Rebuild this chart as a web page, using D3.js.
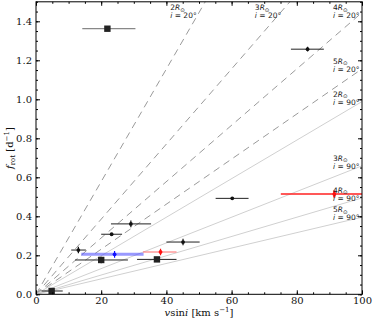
<!DOCTYPE html>
<html>
<head>
<meta charset="utf-8">
<script src="https://cdn.jsdelivr.net/npm/d3@7"></script>
<style>
body { margin: 0; background: #fff; }
</style>
</head>
<body>
<div id="chart"></div>
<script>
// measured points: vsini with asymmetric range, f_rot with small error
const vsini    = [21.9, 83.3, 60.2, 91.5, 13.0, 23.2, 29.1, 24.1, 20.0, 38.2, 37.1, 45.1, 4.8];
const vsiniLo  = [14.2, 78.2, 55.1, 75.1, 10.8, 20.0, 23.0, 13.9, 12.0, 32.8, 31.0, 40.0, 1.7];
const vsiniHi  = [30.5, 88.3, 65.2, 105, 15.3, 26.4, 35.3, 33.0, 28.2, 43.1, 43.1, 50.2, 8.2];
const frot     = [1.362, 1.257, 0.492, 0.514, 0.227, 0.308, 0.361, 0.205, 0.176, 0.217, 0.179, 0.268, 0.017];
const frotErr  = [0.010, 0.012, 0.004, 0.018, 0.017, 0.005, 0.017, 0.017, 0.017, 0.017, 0.012, 0.017, 0.010];
const group    = ["wide", "star", "star", "red", "star", "star", "star", "blue", "binary", "redfaint", "binary", "star", "binary"];

// model lines: radius in solar radii, inclination in degrees
const radii = [2, 3, 4, 5];
const inclinations = [20, 90];

const xTicks = [0, 20, 40, 60, 80, 100];
const yTicks = [0, 0.2, 0.4, 0.6, 0.8, 1.0, 1.2, 1.4];

const W = 374, H = 320;
const MARGIN = { top: 1.8, right: 12, bottom: 25.7, left: 36 };

const styles = {
    wide:     { marker: "square", fill: "#222", bar: "#888", barWidth: 1.3 },
    binary:   { marker: "square", fill: "#222", bar: "#222", barWidth: 1 },
    star:     { marker: "dot",    fill: "#111", bar: "#222", barWidth: 1 },
    blue:     { marker: "dot",    fill: "#1010ff", bar: "rgba(70,70,255,0.55)", barWidth: 3 },
    red:      { marker: "dot",    fill: "#ff1010", bar: "#ff2020", barWidth: 1.4 },
    redfaint: { marker: "dot",    fill: "#ff1010", bar: "#ff6a6a", barWidth: 1.1 }
};

const svg = d3.select("#chart").append("svg")
    .attr("width", W)
    .attr("height", H);

const x = d3.scaleLinear().domain([0, 100]).range([MARGIN.left, W - MARGIN.right]);
const y = d3.scaleLinear().domain([0, 1.5]).range([H - MARGIN.bottom, MARGIN.top]);

svg.append("clipPath").attr("id", "plotclip")
    .append("rect")
    .attr("x", x(0)).attr("y", y(1.5))
    .attr("width", x(100) - x(0)).attr("height", y(0) - y(1.5));

const plot = svg.append("g").attr("clip-path", "url(#plotclip)");

// f_rot [1/d] = vsini / (2 pi R sin i), vsini in km/s, R in km
const RSUN = 695700;
function slope(r, inc){
    return 86400 / (2 * Math.PI * r * RSUN * Math.sin(inc * Math.PI / 180));
}

const lines = [];
inclinations.forEach(inc => radii.forEach(r => lines.push({ r, inc, k: slope(r, inc) })));

plot.selectAll("line.model").data(lines).enter().append("line")
    .attr("class", "model")
    .attr("x1", x(0)).attr("y1", y(0))
    .attr("x2", x(100)).attr("y2", d => y(100 * d.k))
    .attr("stroke", d => d.inc === 20 ? "#9a9a9a" : "#d0d0d0")
    .attr("stroke-width", 1)
    .attr("stroke-dasharray", d => d.inc === 20 ? "7,5" : null);

// labels where the line leaves the box
const labels = svg.append("g")
    .attr("font-family", "DejaVu Sans, sans-serif")
    .attr("font-size", 7.5)
    .attr("fill", "#222");

lines.forEach(d => {
    const fEnd = 100 * d.k;
    let lx, ly;
    if (fEnd > 1.5) {
        lx = x(1.5 / d.k) - 35;
        ly = 18;
    } else {
        lx = x(100) - 29;
        ly = Math.max(y(fEnd) + 3, 18);
    }
    const t1 = labels.append("text").attr("x", lx).attr("y", ly - 8);
    t1.append("tspan").text(d.r);
    t1.append("tspan").attr("font-style", "italic").text("R");
    t1.append("tspan").attr("font-size", 5.5).attr("dy", 1.5).text("⊙");
    const t2 = labels.append("text").attr("x", lx).attr("y", ly);
    t2.append("tspan").attr("font-style", "italic").text("i");
    t2.append("tspan").text(" = " + d.inc + "°");
});

// data points
const points = vsini.map((v, i) => ({
    v, lo: vsiniLo[i], hi: vsiniHi[i], f: frot[i], fe: frotErr[i], s: styles[group[i]]
}));

const pts = plot.selectAll("g.pt").data(points).enter().append("g").attr("class", "pt");

pts.append("line")
    .attr("x1", d => x(d.lo)).attr("x2", d => x(d.hi))
    .attr("y1", d => y(d.f)).attr("y2", d => y(d.f))
    .attr("stroke", d => d.s.bar)
    .attr("stroke-width", d => d.s.barWidth);

pts.append("line")
    .attr("x1", d => x(d.v)).attr("x2", d => x(d.v))
    .attr("y1", d => y(d.f - d.fe)).attr("y2", d => y(d.f + d.fe))
    .attr("stroke", d => d.s.fill)
    .attr("stroke-width", d => d.s === styles.red ? 2.2 : 1.2);

pts.filter(d => d.s.marker === "square").append("rect")
    .attr("x", d => x(d.v) - 3.2).attr("y", d => y(d.f) - 3.2)
    .attr("width", 6.4).attr("height", 6.4)
    .attr("fill", d => d.s.fill);

pts.filter(d => d.s.marker === "dot").append("circle")
    .attr("cx", d => x(d.v)).attr("cy", d => y(d.f))
    .attr("r", 1.9)
    .attr("fill", d => d.s.fill);

// axes, ticks pointing inward on all four sides
function styleAxis(g){
    g.select(".domain").remove();
    g.selectAll(".tick line").attr("stroke", "#000");
    g.selectAll("text")
        .attr("font-family", "DejaVu Serif, serif")
        .attr("font-size", 10)
        .attr("fill", "#111");
}

const xMinor = d3.range(0, 101, 5);
const yMinor = d3.range(0, 1.501, 0.05);

function addAxis(axis, tx, ty, values, size, fmt, pad){
    svg.append("g")
        .attr("transform", `translate(${tx},${ty})`)
        .call(axis.tickValues(values).tickSizeInner(-size).tickSizeOuter(0)
            .tickPadding(pad).tickFormat(fmt))
        .call(styleAxis);
}

const blank = () => "";
addAxis(d3.axisBottom(x), 0, y(0), xMinor, 2, blank, 3);
addAxis(d3.axisBottom(x), 0, y(0), xTicks, 4, d3.format("d"), 3);
addAxis(d3.axisTop(x), 0, y(1.5), xMinor, 2, blank, 3);
addAxis(d3.axisTop(x), 0, y(1.5), xTicks, 4, blank, 3);
addAxis(d3.axisLeft(y), x(0), 0, yMinor, 2, blank, 4);
addAxis(d3.axisLeft(y), x(0), 0, yTicks, 4, d3.format(".1f"), 4);
addAxis(d3.axisRight(y), x(100), 0, yMinor, 2, blank, 3);
addAxis(d3.axisRight(y), x(100), 0, yTicks, 4, blank, 3);

svg.append("rect")
    .attr("x", x(0)).attr("y", y(1.5))
    .attr("width", x(100) - x(0)).attr("height", y(0) - y(1.5))
    .attr("fill", "none")
    .attr("stroke", "#000")
    .attr("stroke-width", 1);

// axis titles
const xl = svg.append("text")
    .attr("x", (x(0) + x(100)) / 2)
    .attr("y", 316)
    .attr("text-anchor", "middle")
    .attr("font-family", "DejaVu Serif, serif")
    .attr("font-size", 10)
    .attr("fill", "#111");
xl.append("tspan").attr("font-style", "italic").text("v");
xl.append("tspan").text("sin");
xl.append("tspan").attr("font-style", "italic").text("i");
xl.append("tspan").text(" [km s");
xl.append("tspan").attr("font-size", 7).attr("dy", -4).text("−1");
xl.append("tspan").attr("dy", 4).text("]");

const yl = svg.append("text")
    .attr("transform", `translate(13,${(y(0) + y(1.5)) / 2}) rotate(-90)`)
    .attr("text-anchor", "middle")
    .attr("font-family", "DejaVu Serif, serif")
    .attr("font-size", 10)
    .attr("fill", "#111");
yl.append("tspan").attr("font-style", "italic").text("f");
yl.append("tspan").attr("font-size", 7).attr("dy", 2).text("rot");
yl.append("tspan").attr("dy", -2).text(" [d");
yl.append("tspan").attr("font-size", 7).attr("dy", -4).text("−1");
yl.append("tspan").attr("dy", 4).text("]");
</script>
</body>
</html>
